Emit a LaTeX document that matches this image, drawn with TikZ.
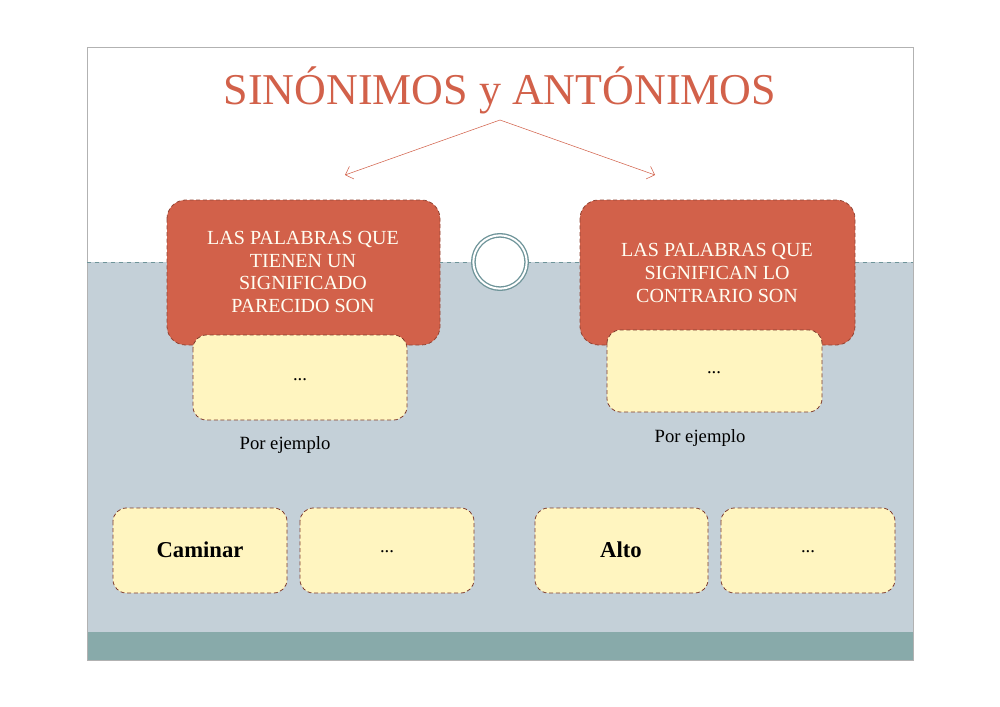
\documentclass[tikz,border=0pt]{standalone}
\usepackage{fontspec}
\setmainfont{Liberation Serif}
\usetikzlibrary{arrows.meta}
\definecolor{rust}{HTML}{D2614A}
\definecolor{cream}{HTML}{FFF5C0}
\definecolor{slate}{HTML}{C4D0D8}
\definecolor{teal}{HTML}{88AAAA}
\definecolor{ring}{HTML}{6E9499}
\tikzset{
 redbox/.style={fill=rust,draw=rust!70!black,densely dashed,rounded corners=14pt,line width=0.6pt},
 ybox/.style={fill=cream,draw=rust!60!black,densely dashed,rounded corners=10pt,line width=0.6pt},
 wtxt/.style={text=white!95!yellow,font=\fontsize{15}{17}\selectfont,align=center},
 btxt/.style={font=\fontsize{14}{16}\selectfont}
}
\begin{document}
\begin{tikzpicture}[x=0.75pt,y=-0.75pt]
\useasboundingbox (0,0) rectangle (1000,707);
\fill[white] (0,0) rectangle (1000,707);
\fill[slate] (87,262) rectangle (913,660);
\fill[teal] (87,632) rectangle (913,660);
\draw[black!30] (87,47) rectangle (913,660);
\draw[ring,dashed,line width=0.5pt] (87,262) -- (913,262);
\fill[white] (500,262) circle (28);
\node[circle,draw=ring,double=white,double distance=1.5pt,line width=1pt,minimum size=40] (c) at (500,262) {};
\node[text=rust,font=\fontsize{33}{36}\selectfont] (t) at (500,90) {SINÓNIMOS y ANTÓNIMOS};
\coordinate (o) at (500,120);
\coordinate (l) at (345,175);
\coordinate (r) at (655,175);
\draw[rust,-{Straight Barb[length=5pt]}] (o) -- (l);
\draw[rust,-{Straight Barb[length=5pt]}] (o) -- (r);
\path[redbox] (167,200) rectangle (440,345);
\node[wtxt] (a) at (303,272) {LAS PALABRAS QUE\\TIENEN UN\\SIGNIFICADO\\PARECIDO SON};
\path[redbox] (580,200) rectangle (855,345);
\node[wtxt] (b) at (717,273) {LAS PALABRAS QUE\\SIGNIFICAN LO\\CONTRARIO SON};
\path[ybox] (193,335) rectangle (407,420);
\node[btxt] (y1) at (300,380) {...};
\path[ybox] (607,330) rectangle (822,412);
\node[btxt] (y2) at (714,373) {...};
\node[btxt] (p1) at (285,445) {Por ejemplo};
\node[btxt] (p2) at (700,438) {Por ejemplo};
\path[ybox] (113,508) rectangle (287,593);
\node[font=\fontsize{17}{19}\selectfont\bfseries] (w1) at (200,550) {Caminar};
\path[ybox] (300,508) rectangle (474,593);
\node[btxt] (w2) at (387,552) {...};
\path[ybox] (535,508) rectangle (708,593);
\node[font=\fontsize{17}{19}\selectfont\bfseries] (w3) at (621,550) {Alto};
\path[ybox] (721,508) rectangle (895,593);
\node[btxt] (w4) at (808,552) {...};
\end{tikzpicture}
\end{document}
